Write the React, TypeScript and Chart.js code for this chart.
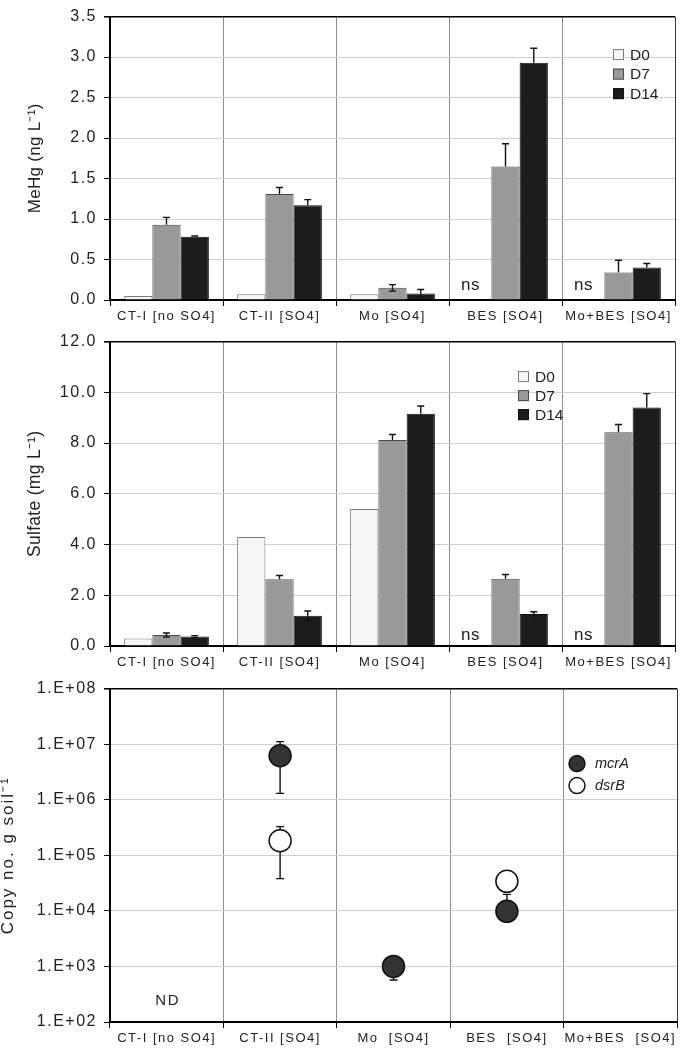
import { useEffect, useRef } from 'react';
import { Chart, registerables } from 'chart.js';

Chart.register(...registerables);

const FONT = "'Liberation Sans', Arial, Helvetica, sans-serif";
Chart.defaults.font.family = FONT;
Chart.defaults.color = '#222';

// ---------- data ----------
const barCategories = ['CT-I [no SO4]', 'CT-II [SO4]', 'Mo [SO4]', 'BES [SO4]', 'Mo+BES [SO4]'];
const geneCategories = ['CT-I [no SO4]', 'CT-II [SO4]', 'Mo  [SO4]', 'BES  [SO4]', 'Mo+BES  [SO4]'];
const dayLabels = ['D0', 'D7', 'D14'];

// MeHg (ng/L)
const mehgD0 = [0.05, 0.07, 0.07, null, null];
const mehgD7 = [0.93, 1.31, 0.15, 1.65, 0.34];
const mehgD14 = [0.78, 1.17, 0.08, 2.93, 0.4];
const mehgD7ErrUp = [0.09, 0.08, 0.04, 0.28, 0.15];
const mehgD7ErrDown = [0, 0, 0.04, 0, 0];
const mehgD14ErrUp = [0.01, 0.07, 0.05, 0.18, 0.05];
const mehgD14ErrDown = [0, 0, 0.04, 0, 0];

// Sulfate (mg/L)
const sulfD0 = [0.3, 4.3, 5.4, null, null];
const sulfD7 = [0.43, 2.63, 8.12, 2.65, 8.43];
const sulfD14 = [0.37, 1.19, 9.16, 1.26, 9.4];
const sulfD7ErrUp = [0.08, 0.15, 0.22, 0.17, 0.3];
const sulfD7ErrDown = [0.08, 0, 0, 0, 0];
const sulfD14ErrUp = [0.04, 0.19, 0.3, 0.09, 0.55];
const sulfD14ErrDown = [0.04, 0.19, 0, 0.09, 0];

// Gene copies (copy no. / g soil)
const geneLabels = ['mcrA', 'dsrB'];
const mcrA = [null, 6.2e6, 1.0e3, 9.8e3, null];
const mcrAErrUp = [0, 4.9e6, 4.3e2, 1.0e4, 0];
const mcrAErrDown = [0, 4.9e6, 4.3e2, 0, 0];
const dsrB = [null, 1.83e5, null, 3.4e4, null];
const dsrBErrUp = [0, 1.45e5, 0, 0, 0];
const dsrBErrDown = [0, 1.45e5, 0, 0, 0];

const geneTickValues = [1e2, 1e3, 1e4, 1e5, 1e6, 1e7, 1e8];
const geneTickLabels = ['1.E+02', '1.E+03', '1.E+04', '1.E+05', '1.E+06', '1.E+07', '1.E+08'];

// ---------- plugins ----------
type ErrSet = { dataset: number; up: (number | null)[]; down: (number | null)[] };

function errorBars(id: string, hook: string, sets: ErrSet[], cap: number) {
  return {
    id,
    [hook](chart: any) {
      const ctx = chart.ctx;
      const ys = chart.scales.y;
      ctx.save();
      ctx.strokeStyle = '#111';
      ctx.lineWidth = 1.4;
      for (const s of sets) {
        const meta = chart.getDatasetMeta(s.dataset);
        const vals = chart.data.datasets[s.dataset].data;
        meta.data.forEach((el: any, i: number) => {
          const v = vals[i];
          if (v == null) return;
          const x = el.x;
          const y0 = ys.getPixelForValue(v);
          const seg = (yEnd: number) => {
            ctx.beginPath();
            ctx.moveTo(x, y0);
            ctx.lineTo(x, yEnd);
            ctx.moveTo(x - cap, yEnd);
            ctx.lineTo(x + cap, yEnd);
            ctx.stroke();
          };
          const up = s.up[i] ?? 0;
          const dn = s.down[i] ?? 0;
          if (up > 0) seg(ys.getPixelForValue(v + up));
          if (dn > 0 && v - dn > 0) seg(ys.getPixelForValue(v - dn));
        });
      }
      ctx.restore();
    },
  };
}

// wide-spaced tick text like the original; y title gets its own spacing
function spacing(titleSpacing: string) {
  return {
    id: 'spacing',
    afterLayout(chart: any) {
      const ys = chart.scales.y;
      if (ys && !ys.__patched) {
        const orig = ys.drawTitle;
        ys.drawTitle = function (this: any, ...args: any[]) {
          const ctx = this.ctx;
          const prev = ctx.letterSpacing;
          ctx.letterSpacing = titleSpacing;
          orig.apply(this, args);
          ctx.letterSpacing = prev;
        };
        ys.__patched = true;
      }
    },
    beforeDraw(chart: any) {
      chart.ctx.letterSpacing = '1.5px';
    },
  };
}

type Note = { cat: number; text: string; dx: number; dy: number; size: number; spacing: string };
function notes(id: string, items: Note[]) {
  return {
    id,
    afterDraw(chart: any) {
      const { ctx, chartArea } = chart;
      const xs = chart.scales.x;
      ctx.save();
      ctx.fillStyle = '#222';
      ctx.textAlign = 'center';
      ctx.textBaseline = 'middle';
      for (const n of items) {
        ctx.letterSpacing = n.spacing;
        ctx.font = `${n.size}px ${FONT}`;
        ctx.fillText(n.text, xs.getPixelForValue(n.cat) + n.dx, chartArea.bottom - n.dy);
      }
      ctx.restore();
    },
  };
}

function boxLegend(id: string, dx: number, dy: number, rowH: number) {
  return {
    id,
    afterDraw(chart: any) {
      const { ctx, chartArea } = chart;
      const x0 = chartArea.left + dx;
      const y0 = chartArea.top + dy;
      ctx.save();
      ctx.letterSpacing = '0px';
      ctx.font = `15.5px ${FONT}`;
      ctx.textBaseline = 'middle';
      ctx.textAlign = 'left';
      chart.data.datasets.forEach((ds: any, i: number) => {
        const cy = y0 + i * rowH;
        ctx.fillStyle = ds.backgroundColor;
        ctx.fillRect(x0, cy - 5.5, 11, 11);
        ctx.strokeStyle = ds.borderColor;
        ctx.lineWidth = 1;
        ctx.strokeRect(x0 + 0.5, cy - 5, 10, 10);
        ctx.fillStyle = '#222';
        ctx.fillText(ds.label, x0 + 17, cy + 1);
      });
      ctx.restore();
    },
  };
}

function circleLegend(id: string, dx: number, dy: number, rowH: number) {
  return {
    id,
    afterDraw(chart: any) {
      const { ctx, chartArea } = chart;
      const cx = chartArea.left + dx;
      const y0 = chartArea.top + dy;
      ctx.save();
      ctx.letterSpacing = '0px';
      ctx.font = `italic 14.5px ${FONT}`;
      ctx.textBaseline = 'middle';
      ctx.textAlign = 'left';
      chart.data.datasets.forEach((ds: any, i: number) => {
        const cy = y0 + i * rowH;
        ctx.beginPath();
        ctx.arc(cx, cy, 8, 0, Math.PI * 2);
        ctx.fillStyle = ds.pointBackgroundColor;
        ctx.fill();
        ctx.strokeStyle = ds.pointBorderColor;
        ctx.lineWidth = 1.5;
        ctx.stroke();
        ctx.fillStyle = '#222';
        ctx.fillText(ds.label, cx + 18, cy);
      });
      ctx.restore();
    },
  };
}

// ---------- shared scale pieces ----------
function xScale(h: number, labelsFont = 13) {
  return {
    offset: true,
    grid: {
      offset: true,
      color: (c: any) => (c.type === 'tick' ? '#8c8c8c' : '#3a3a3a'),
      lineWidth: 1,
      tickLength: 6,
      tickColor: '#000',
    },
    border: { color: '#000', width: 2 },
    ticks: {
      color: '#222',
      font: { size: labelsFont },
      maxRotation: 0,
      minRotation: 0,
      autoSkip: false,
      padding: 3,
    },
    afterFit: (s: any) => {
      s.height = h;
      s.paddingLeft = 0;
      s.paddingRight = 0;
    },
  };
}

function yGrid() {
  return {
    color: (c: any) => (c.tick && c.tick.value === c.scale.max ? '#000' : '#cfcfcf'),
    lineWidth: (c: any) => (c.tick && c.tick.value === c.scale.max ? 1.6 : 1),
    tickLength: 6,
    tickColor: '#000',
  };
}

const barColors = {
  bg: ['#f6f6f6', '#999999', '#1c1c1c'],
  border: ['#7c7c7c', '#4a4a4a', '#111111'],
};

function barConfig(o: {
  d0: (number | null)[];
  d7: (number | null)[];
  d14: (number | null)[];
  max: number;
  step: number;
  title: string;
  titleSize: number;
  errs: ErrSet[];
  padTop: number;
  xH: number;
  legend: [number, number, number];
  nsDy: number;
}): any {
  const series = [o.d0, o.d7, o.d14];
  return {
    type: 'bar',
    data: {
      labels: barCategories,
      datasets: series.map((d, i) => ({
        label: dayLabels[i],
        data: d,
        backgroundColor: barColors.bg[i],
        borderColor: barColors.border[i],
        borderWidth: 1,
        categoryPercentage: 0.75,
        barPercentage: 1.0,
      })),
    },
    options: {
      responsive: false,
      devicePixelRatio: 1,
      animation: false,
      events: [],
      layout: { autoPadding: false, padding: { top: o.padTop, right: 5, left: 0, bottom: 0 } },
      plugins: { legend: { display: false }, tooltip: { enabled: false } },
      scales: {
        x: xScale(o.xH),
        y: {
          min: 0,
          max: o.max,
          ticks: {
            stepSize: o.step,
            callback: (v: any) => Number(v).toFixed(1),
            font: { size: 16 },
            color: '#222',
            padding: 7,
          },
          grid: yGrid(),
          border: { color: '#000', width: 2 },
          title: {
            display: true,
            text: o.title,
            font: { size: o.titleSize, lineHeight: 1.2 },
            color: '#222',
            padding: { top: 35 - (o.titleSize * 1.2) / 2, bottom: 0 },
          },
          afterFit: (s: any) => {
            s.width = 110;
          },
        },
      },
    },
    plugins: [
      spacing('0.3px'),
      errorBars('err', 'afterDatasetsDraw', o.errs, 3.5),
      boxLegend('lg', o.legend[0], o.legend[1], o.legend[2]),
      notes('ns', [
        { cat: 3, text: 'ns', dx: -35, dy: o.nsDy, size: 17, spacing: '0.5px' },
        { cat: 4, text: 'ns', dx: -35, dy: o.nsDy, size: 17, spacing: '0.5px' },
      ]),
    ],
  };
}

function mehgConfig() {
  return barConfig({
    d0: mehgD0,
    d7: mehgD7,
    d14: mehgD14,
    max: 3.5,
    step: 0.5,
    title: 'MeHg (ng L\u207B\u00B9)',
    titleSize: 17,
    errs: [
      { dataset: 1, up: mehgD7ErrUp, down: mehgD7ErrDown },
      { dataset: 2, up: mehgD14ErrUp, down: mehgD14ErrDown },
    ],
    padTop: 7,
    xH: 25,
    legend: [503, 38, 19.5],
    nsDy: 15,
  });
}

function sulfateConfig() {
  return barConfig({
    d0: sulfD0,
    d7: sulfD7,
    d14: sulfD14,
    max: 12,
    step: 2,
    title: 'Sulfate (mg L\u207B\u00B9)',
    titleSize: 17.5,
    errs: [
      { dataset: 1, up: sulfD7ErrUp, down: sulfD7ErrDown },
      { dataset: 2, up: sulfD14ErrUp, down: sulfD14ErrDown },
    ],
    padTop: 10,
    xH: 26,
    legend: [408, 35, 19],
    nsDy: 11,
  });
}

function geneConfig(): any {
  const series = [mcrA, dsrB];
  const fills = ['#333333', '#ffffff'];
  return {
    type: 'line',
    data: {
      labels: geneCategories,
      datasets: series.map((d, i) => ({
        label: geneLabels[i],
        data: d,
        showLine: false,
        pointStyle: 'circle',
        pointRadius: 11,
        pointHoverRadius: 11,
        pointBorderWidth: 1.5,
        pointBackgroundColor: fills[i],
        pointBorderColor: '#111111',
        backgroundColor: fills[i],
        borderColor: '#111111',
      })),
    },
    options: {
      responsive: false,
      devicePixelRatio: 1,
      animation: false,
      events: [],
      layout: { autoPadding: false, padding: { top: 14, right: 3, left: 0, bottom: 0 } },
      plugins: { legend: { display: false }, tooltip: { enabled: false } },
      scales: {
        x: xScale(27),
        y: {
          type: 'logarithmic',
          min: 1e2,
          max: 1e8,
          afterBuildTicks: (s: any) => {
            s.ticks = geneTickValues.map((v) => ({ value: v }));
          },
          ticks: {
            callback: (v: any) => {
              const i = geneTickValues.findIndex((t) => Math.abs(Math.log10(t) - Math.log10(v)) < 1e-6);
              return i >= 0 ? geneTickLabels[i] : '';
            },
            font: { size: 16 },
            color: '#222',
            padding: 7,
          },
          grid: yGrid(),
          border: { color: '#000', width: 2 },
          title: {
            display: true,
            text: 'Copy no. g soil\u207B\u00B9',
            font: { size: 17, lineHeight: 1.2 },
            color: '#222',
            padding: { top: -2, bottom: 0 },
          },
          afterFit: (s: any) => {
            s.width = 110;
          },
        },
      },
    },
    plugins: [
      spacing('2px'),
      errorBars(
        'err',
        'beforeDatasetsDraw',
        [
          { dataset: 0, up: mcrAErrUp, down: mcrAErrDown },
          { dataset: 1, up: dsrBErrUp, down: dsrBErrDown },
        ],
        4
      ),
      circleLegend('lg', 467, 75, 22),
      notes('nd', [{ cat: 0, text: 'ND', dx: 1, dy: 21, size: 15, spacing: '1.5px' }]),
    ],
  };
}

export default function App() {
  const r1 = useRef<HTMLCanvasElement>(null);
  const r2 = useRef<HTMLCanvasElement>(null);
  const r3 = useRef<HTMLCanvasElement>(null);

  useEffect(() => {
    const charts = [
      new Chart(r1.current!, mehgConfig()),
      new Chart(r2.current!, sulfateConfig()),
      new Chart(r3.current!, geneConfig()),
    ];
    return () => charts.forEach((c) => c.destroy());
  }, []);

  const cs = (top: number, h: number): any => ({
    position: 'absolute',
    left: 0,
    top,
    width: 680,
    height: h,
    display: 'block',
  });

  return (
    <div style={{ position: 'absolute', left: 0, top: 0, width: 680, height: 1049, background: '#fff' }}>
      <canvas ref={r1} width={680} height={325} style={cs(0, 325)} />
      <canvas ref={r2} width={680} height={347} style={cs(325, 347)} />
      <canvas ref={r3} width={680} height={377} style={cs(672, 377)} />
    </div>
  );
}
